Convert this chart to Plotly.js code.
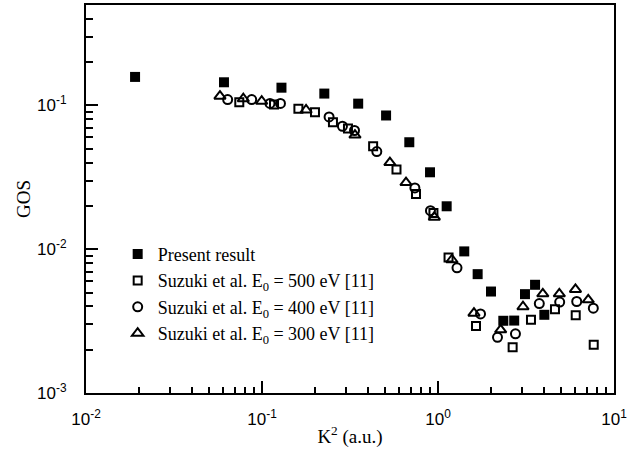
<!DOCTYPE html>
<html>
<head>
<meta charset="utf-8">
<script src="https://cdn.plot.ly/plotly-3.0.1.min.js"></script>
<style>html,body{margin:0;padding:0;background:#fff;}#chart{width:644px;height:455px;}</style>
</head>
<body>
<div id="chart"></div>
<script>
// Present result
const presentK2 = [0.019, 0.0608, 0.129, 0.226, 0.352, 0.507, 0.687, 0.901, 1.12, 1.41, 1.68, 2.0, 2.35, 2.71, 3.12, 3.56, 4.02];
const presentGOS = [0.158, 0.145, 0.133, 0.121, 0.103, 0.0852, 0.0555, 0.0343, 0.0199, 0.00966, 0.00671, 0.00508, 0.00318, 0.00319, 0.00487, 0.00566, 0.0035];
// Suzuki et al. E0 = 500 eV
const s500K2 = [0.0743, 0.117, 0.161, 0.200, 0.253, 0.308, 0.428, 0.581, 0.750, 0.942, 1.148, 1.644, 2.655, 3.375, 4.62, 6.06, 7.67];
const s500GOS = [0.1054, 0.1016, 0.0948, 0.0898, 0.0765, 0.0691, 0.0521, 0.0358, 0.0242, 0.0179, 0.00877, 0.00293, 0.00208, 0.00323, 0.00382, 0.00347, 0.00217];
// Suzuki et al. E0 = 400 eV
const s400K2 = [0.0638, 0.0874, 0.111, 0.1273, 0.2405, 0.2864, 0.3354, 0.449, 0.739, 0.906, 1.282, 1.744, 2.178, 2.755, 3.764, 4.914, 6.14, 7.63];
const s400GOS = [0.110, 0.110, 0.1033, 0.1033, 0.0832, 0.0717, 0.0670, 0.0478, 0.0267, 0.01854, 0.00743, 0.00355, 0.00244, 0.00258, 0.00419, 0.00429, 0.00433, 0.00389];
// Suzuki et al. E0 = 300 eV
const s300K2 = [0.0577, 0.0783, 0.0996, 0.178, 0.3375, 0.533, 0.658, 0.953, 1.20, 1.601, 2.27, 3.04, 3.94, 4.89, 6.04, 7.14];
const s300GOS = [0.116, 0.1114, 0.107, 0.0930, 0.0623, 0.0401, 0.0291, 0.0167, 0.00845, 0.00359, 0.00275, 0.00398, 0.00490, 0.00490, 0.00525, 0.00445];

const seriesNames = ['Present result', 'Suzuki et al. E<sub>0</sub> = 500 eV [11]', 'Suzuki et al. E<sub>0</sub> = 400 eV [11]', 'Suzuki et al. E<sub>0</sub> = 300 eV [11]'];
const xTickVals = [0.01, 0.1, 1, 10];
const xTickText = ['10<sup>-2</sup>', '10<sup>-1</sup>', '10<sup>0</sup>', '10<sup>1</sup>'];
const yTickVals = [0.001, 0.01, 0.1];
const yTickText = ['10<sup>-3</sup>', '10<sup>-2</sup>', '10<sup>-1</sup>'];

function minorVals(lo, hi) {
  const v = [];
  for (let e = lo; e < hi; e++) for (let m = 2; m <= 9; m++) v.push(m * Math.pow(10, e));
  return v;
}

const openLine = {color: '#000', width: 2};
const traces = [
  {x: presentK2, y: presentGOS, name: seriesNames[0], mode: 'markers', type: 'scatter',
   marker: {symbol: 'square', size: 10, color: '#000'}},
  {x: s500K2, y: s500GOS, name: seriesNames[1], mode: 'markers', type: 'scatter',
   marker: {symbol: 'square-open', size: 8, color: '#000', line: openLine}},
  {x: s400K2, y: s400GOS, name: seriesNames[2], mode: 'markers', type: 'scatter',
   marker: {symbol: 'circle-open', size: 9, color: '#000', line: openLine}},
  {x: s300K2, y: s300GOS, name: seriesNames[3], mode: 'markers', type: 'scatter',
   marker: {symbol: 'triangle-up-open', size: 10, color: '#000', line: openLine}}
];

const tickFont = {family: 'Liberation Sans, Arial, sans-serif', size: 17, color: '#000'};
const titleFont = {family: 'Liberation Serif, Times New Roman, serif', size: 19, color: '#000'};

const layout = {
  width: 644, height: 455,
  margin: {l: 86, r: 30, t: 5, b: 62},
  paper_bgcolor: '#fff', plot_bgcolor: '#fff',
  showlegend: true,
  legend: {x: 0.06, xanchor: 'left', y: 0.405, yanchor: 'top', bgcolor: 'rgba(0,0,0,0)',
           font: {family: 'Liberation Serif, Times New Roman, serif', size: 18, color: '#000'},
           tracegroupgap: 0},
  xaxis: {type: 'log', range: [-2, 1], showline: true, linecolor: '#000', linewidth: 2, mirror: true,
          showgrid: false, zeroline: false, ticks: 'inside', ticklen: 12, tickwidth: 2, tickcolor: '#000',
          tickmode: 'array', tickvals: xTickVals, ticktext: xTickText, tickfont: tickFont,
          ticklabelstandoff: 10,
          minor: {tickmode: 'array', tickvals: minorVals(-2, 1), ticks: 'inside', ticklen: 6, tickwidth: 2, tickcolor: '#000', showgrid: false},
          title: {text: 'K<sup>2</sup> (a.u.)', font: titleFont, standoff: 1}},
  yaxis: {type: 'log', range: [-3, Math.log10(0.5)], showline: true, linecolor: '#000', linewidth: 2, mirror: true,
          showgrid: false, zeroline: false, ticks: 'inside', ticklen: 12, tickwidth: 2, tickcolor: '#000',
          tickmode: 'array', tickvals: yTickVals, ticktext: yTickText, tickfont: tickFont,
          ticklabelstandoff: 14,
          minor: {tickmode: 'array', tickvals: minorVals(-3, 0).filter(v => v < 0.5), ticks: 'inside', ticklen: 7, tickwidth: 2, tickcolor: '#000', showgrid: false},
          title: {text: 'GOS', font: titleFont, standoff: 1}}
};

Plotly.newPlot('chart', traces, layout, {displayModeBar: false, staticPlot: true});
</script>
</body>
</html>
